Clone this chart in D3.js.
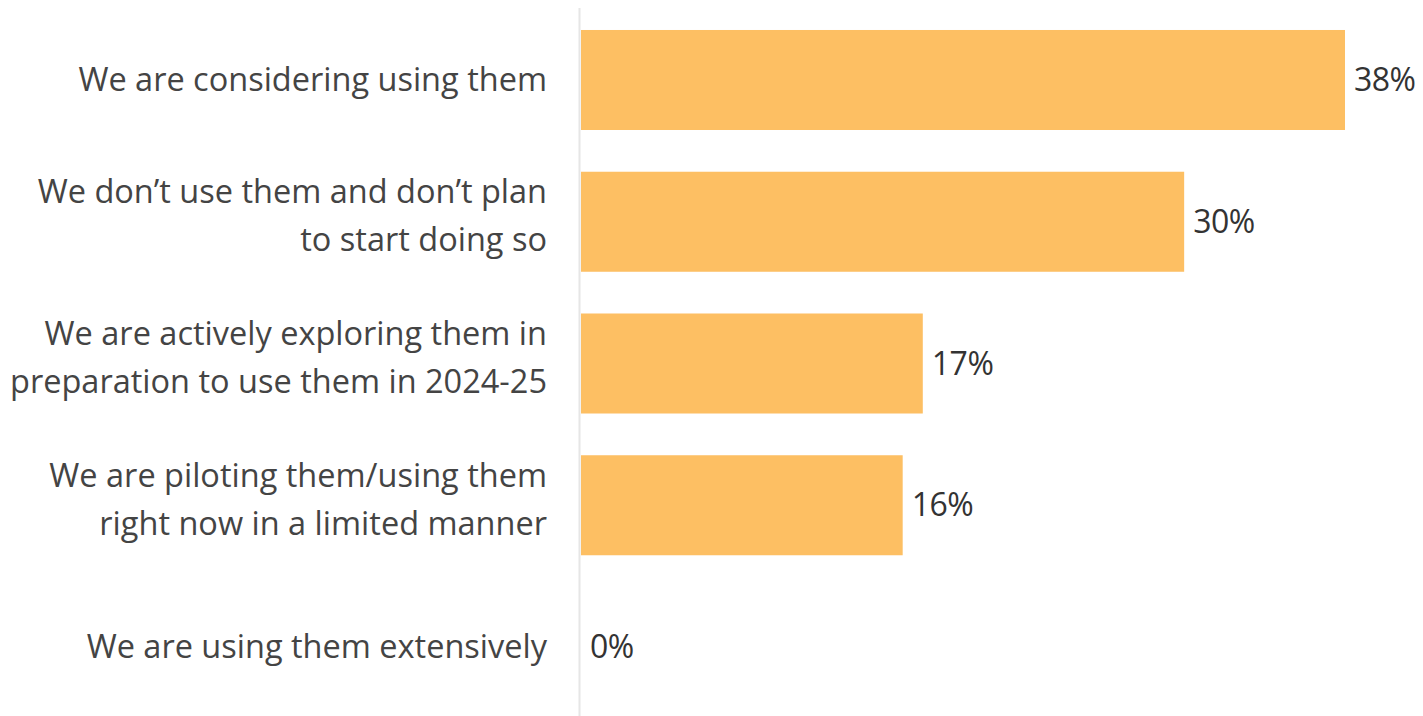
<!DOCTYPE html>
<html><head><meta charset="utf-8">
<script src="https://cdn.jsdelivr.net/npm/d3@7"></script>
<style>body{margin:0;background:#fff;} svg{display:block;}</style>
</head><body>
<script>
const categories = [
  ["We are considering using them"],
  ["We don’t use them and don’t plan", "to start doing so"],
  ["We are actively exploring them in", "preparation to use them in 2024-25"],
  ["We are piloting them/using them", "right now in a limited manner"],
  ["We are using them extensively"]
];
const values = [38, 30, 17, 16, 0];
const valueLabels = ["38%", "30%", "17%", "16%", "0%"];

const W = 1423, H = 716;
const svg = d3.select("body").append("svg").attr("width", W).attr("height", H);
const x0 = 581;
const x = d3.scaleLinear().domain([0, 38]).range([x0, 1345]);
const ids = d3.range(categories.length);
const y = d3.scaleBand().domain(ids).range([10, 717]).paddingInner(0.2945).paddingOuter(0.141);

const font = "'Open Sans', sans-serif";

svg.append("line").attr("x1", 579.5).attr("x2", 579.5).attr("y1", 8).attr("y2", H)
  .attr("stroke", "#e6e6e6").attr("stroke-width", 2);

svg.selectAll("rect.bar").data(ids).join("rect").attr("class", "bar")
  .attr("x", x0).attr("y", d => y(d)).attr("height", y.bandwidth())
  .attr("width", d => x(values[d]) - x0).attr("fill", "#FDBF63");

svg.selectAll("text.val").data(ids).join("text").attr("class", "val")
  .attr("x", d => x(values[d]) + 9).attr("y", d => y(d) + y.bandwidth() / 2)
  .attr("dy", "0.35em").attr("font-family", font).attr("font-size", 32)
  .attr("letter-spacing", -0.5)
  .attr("fill", "#333").text(d => valueLabels[d]);

const lab = svg.selectAll("text.lab").data(ids).join("text").attr("class", "lab")
  .attr("x", 547).attr("text-anchor", "end").attr("font-family", font)
  .attr("font-size", 32.5).attr("fill", "#444");
lab.each(function(d) {
  const lines = categories[d];
  const cy = y(d) + y.bandwidth() / 2;
  const lh = 48;
  const t = d3.select(this);
  lines.forEach((l, i) => {
    t.append("tspan").attr("x", 547)
      .attr("y", cy + (i - (lines.length - 1) / 2) * lh - (lines.length > 1 ? 6 : 0))
      .attr("dy", "0.35em").text(l);
  });
});
</script>
</body></html>
